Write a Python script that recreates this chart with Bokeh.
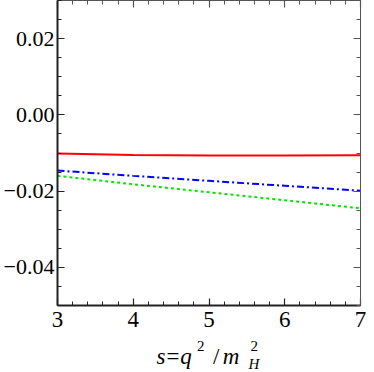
from bokeh.plotting import figure
from bokeh.layouts import column
from bokeh.models import (LinearAxis, FixedTicker, CustomJSTickFormatter, Range1d)
from bokeh.core.properties import value
from bokeh.embed import file_html
from bokeh.resources import INLINE

# ---- data ----
s_vals = [3, 4, 5, 6, 7]
red_vals = [-0.0101, -0.0105, -0.01065, -0.01065, -0.0106]
blue_vals = [-0.0146, -0.0160, -0.0173, -0.0186, -0.0199]
green_vals = [-0.0160, -0.0182, -0.0203, -0.0224, -0.0245]

x_major = [3, 4, 5, 6, 7]
y_major = [-0.04, -0.02, 0.0, 0.02]
x_minor = [3 + 0.2 * i for i in range(21)]
y_minor = [-0.05 + 0.005 * i for i in range(17)]

FONT = "Liberation Serif"
W = 366
FL, FR = 54, 6          # frame borders (left / right) in px

p = figure(width=W, height=337, output_backend="svg", toolbar_location=None,
           x_range=Range1d(3, 7), y_range=Range1d(-0.05, 0.03),
           x_axis_location=None, y_axis_location=None,
           min_border_left=FL, min_border_right=FR, min_border_top=0, min_border_bottom=32)
p.outline_line_color = None
p.grid.visible = False
p.background_fill_color = "white"
p.border_fill_color = "white"

fmt = CustomJSTickFormatter(code="return tick.toFixed(2).replace('-', '\u2212');")
fmt_x = CustomJSTickFormatter(code="return tick.toFixed(0);")
empty = CustomJSTickFormatter(code="return '';")

def style(ax, major, minor, color, width, labels, formatter):
    ax.ticker = FixedTicker(ticks=major, minor_ticks=minor)
    ax.formatter = formatter if labels else empty
    ax.axis_line_color = color
    ax.axis_line_width = width
    ax.major_tick_line_color = color
    ax.minor_tick_line_color = color
    ax.major_tick_line_width = 1.2
    ax.minor_tick_line_width = 1
    ax.major_tick_in = 7
    ax.major_tick_out = 0
    ax.minor_tick_in = 4
    ax.minor_tick_out = 0
    ax.major_label_text_font = FONT
    ax.major_label_text_font_size = "22px" if labels else "0px"
    ax.major_label_text_color = "black"
    ax.major_label_standoff = 3 if labels else 0

left = LinearAxis()
style(left, y_major, y_minor, "#222222", 2, True, fmt)
p.add_layout(left, "left")
bottom = LinearAxis()
style(bottom, x_major, x_minor, "#222222", 2, True, fmt_x)
bottom.major_label_standoff = 6
bottom.major_label_text_font_size = "23px"
p.add_layout(bottom, "below")
right = LinearAxis()
style(right, y_major, y_minor, "#555555", 1, False, empty)
p.add_layout(right, "right")
top = LinearAxis()
style(top, x_major, x_minor, "#555555", 1, False, empty)
p.add_layout(top, "above")

p.line(s_vals, red_vals, line_color="#ff0000", line_width=2)
p.line(s_vals, blue_vals, line_color="#0000ff", line_width=2, line_dash="7 3 2 3")
p.line(s_vals, green_vals, line_color="#00e600", line_width=2, line_dash="3 3")

# ---- x-axis title  s = q^2 / m_H^2 , drawn in a strip below the plot ----
# strip coordinates are canvas pixels (its frame is aligned with the plot frame)
H2 = 35
q = figure(width=W, height=H2, output_backend="svg", toolbar_location=None,
           x_range=Range1d(FL, W - FR), y_range=Range1d(0, H2),
           x_axis_location=None, y_axis_location=None,
           min_border_left=FL, min_border_right=FR, min_border_top=0, min_border_bottom=0)
q.outline_line_color = None
q.grid.visible = False
q.border_fill_color = "white"

def lab(txt, x, y, size, style_="italic"):
    q.text(x=[x], y=[y], text=[txt], text_font=value(FONT), text_font_size=value(size),
           text_font_style=style_, text_color="black",
           text_baseline="alphabetic", text_align="left")

BASE = 16   # baseline height above the strip's bottom
lab("s", 154, BASE, "23px")
lab("=", 164, BASE, "23px", "normal")
lab("q", 178, BASE, "23px")
lab("2", 195, BASE + 11, "15px", "normal")
lab("/", 211, BASE, "23px", "normal")
lab("m", 221, BASE, "23px")
lab("2", 249, BASE + 11, "15px", "normal")
lab("H", 247, BASE - 7, "15px")

layout = column(p, q, spacing=0)
open("out.html", "w").write(file_html(layout, INLINE))
